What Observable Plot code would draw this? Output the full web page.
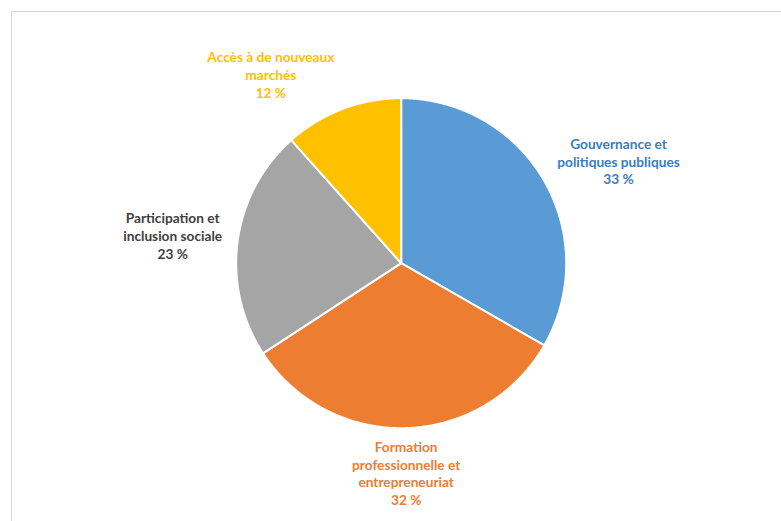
<!DOCTYPE html>
<html>
<head>
<meta charset="utf-8">
<script src="https://cdn.jsdelivr.net/npm/d3@7"></script>
<script src="https://cdn.jsdelivr.net/npm/@observablehq/plot@0.6"></script>
<style>
  html, body { margin: 0; padding: 0; background: #fff; overflow: hidden; }
  #wrap { position: relative; width: 781px; height: 521px; overflow: hidden; }
  #border { position: absolute; left: 11px; top: 11px; width: 820px; height: 560px;
            border: 1.5px solid #d6d6d6; box-sizing: border-box; }
  #chart { position: absolute; left: 0; top: 0; }
</style>
</head>
<body>
<div id="wrap"><div id="border"></div><div id="chart"></div></div>
<script>
// ---- data ----
const categories = [
  "Gouvernance et\npolitiques publiques",
  "Formation\nprofessionnelle et\nentrepreneuriat",
  "Participation et\ninclusion sociale",
  "Accès à de nouveaux\nmarchés"
];
const shares = [33.3, 32.5, 22.6, 11.6];
const pctLabels = ["33 %", "32 %", "23 %", "12 %"];
const sliceColors = ["#5B9BD5", "#ED7D31", "#A5A5A5", "#FFC000"];
const textColors = ["#3A7CC3", "#ED7D31", "#404040", "#FFC000"];

// ---- layout (unit-circle coordinates for label centres) ----
const labelPos = [[1.317, 0.62], [0.03, -1.27], [-1.385, 0.17], [-0.79, 1.145]];

const pie = d3.pie().sort(null).value(d => d)(shares);
const pts = [];
pie.forEach((s, i) => {
  const name = categories[i];
  pts.push({name, x: 0, y: 0});
  const n = Math.max(2, Math.ceil((s.endAngle - s.startAngle) / 0.005));
  for (let k = 0; k <= n; k++) {
    const a = s.startAngle + (s.endAngle - s.startAngle) * k / n;
    pts.push({name, x: Math.sin(a), y: Math.cos(a)});
  }
  pts.push({name, x: 0, y: 0});
});
const labels = categories.map((c, i) => ({
  name: c, text: c + "\n" + pctLabels[i], x: labelPos[i][0], y: labelPos[i][1], color: textColors[i]
}));

const cx = 400.7, cy = 262.7, R = 165;
const chart = Plot.plot({
  width: 781, height: 521,
  margin: 0,
  x: {domain: [-1, 1], range: [cx - R, cx + R], axis: null},
  y: {domain: [-1, 1], range: [cy + R, cy - R], axis: null},
  color: {domain: categories, range: sliceColors},
  style: {background: "transparent", overflow: "visible"},
  marks: [
    Plot.line(pts, {x: "x", y: "y", z: "name", fill: "name", stroke: "white", strokeWidth: 2, strokeLinejoin: "round"}),
    Plot.text(labels, {x: "x", y: "y", text: "text", fill: "color", fontSize: 13.7, fontWeight: "bold",
      fontFamily: "Lato", lineHeight: 1.3, lineAnchor: "middle", textAnchor: "middle"})
  ]
});
document.getElementById("chart").appendChild(chart);
</script>
</body>
</html>
